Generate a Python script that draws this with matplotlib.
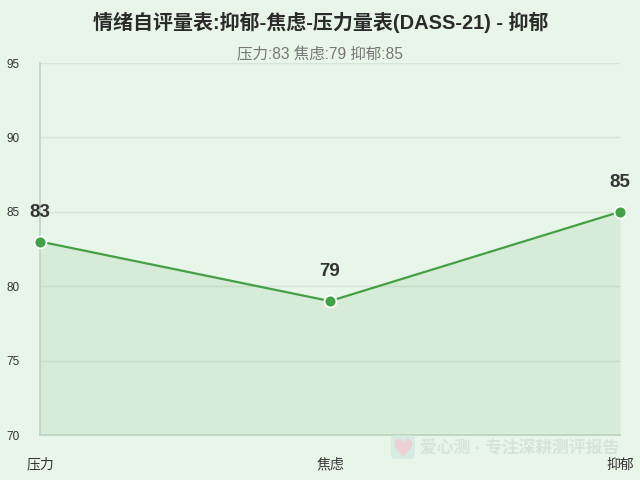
import matplotlib
matplotlib.use('Agg')
import matplotlib.pyplot as plt
from matplotlib.patches import FancyBboxPatch

plt.rcParams['font.family'] = ['Liberation Sans', 'Noto Sans CJK SC', 'DejaVu Sans']

categories = ['压力', '焦虑', '抑郁']
values = [83, 79, 85]
y_ticks = [70, 75, 80, 85, 90, 95]

title = '情绪自评量表:抑郁-焦虑-压力量表(DASS-21) - 抑郁'
subtitle = '压力:83 焦虑:79 抑郁:85'
watermark = '爱心测 · 专注深耕测评报告'

bg = '#e8f5e9'
green = '#43a047'

fig = plt.figure(figsize=(6.4, 4.8), dpi=100, facecolor=bg)
ax = fig.add_axes([40 / 640, 1 - 435 / 480, 580 / 640, 372 / 480], facecolor='none')

x = list(range(len(categories)))
ax.fill_between(x, values, 70, color=green, alpha=0.1, linewidth=0)
ax.plot(x, values, color=green, linewidth=1.6, marker='o', markersize=8.6,
        markerfacecolor=green, markeredgecolor='white', markeredgewidth=1.3,
        clip_on=False, zorder=5)

for i, v in zip(x, values):
    ax.annotate(str(v), (i, v), xytext=(0, 15), textcoords='offset points',
                ha='center', va='bottom', fontsize=13.5, fontweight='bold', color='#333333')

ax.set_xlim(0, 2)
ax.set_ylim(70, 95)
ax.set_yticks(y_ticks)
ax.set_xticks(x)
ax.set_xticklabels(categories)
ax.tick_params(axis='y', length=0, pad=15, labelsize=8.5, labelcolor='#333333')
ax.tick_params(axis='x', length=0, pad=16.5, labelsize=10, labelcolor='#333333')
ax.grid(axis='y', color='#c8d8ca', linewidth=1, alpha=0.55)
ax.set_axisbelow(True)
for name in ['top', 'right']:
    ax.spines[name].set_visible(False)
for name in ['left', 'bottom']:
    ax.spines[name].set_color('#bcd3bf')
    ax.spines[name].set_linewidth(1.2)

fig.text(0.501, 1 - 22 / 480, title, ha='center', va='center', fontsize=14.4,
         fontweight='bold', color='#2b2b2b')
fig.text(0.5, 1 - 55 / 480, subtitle, ha='center', va='center', fontsize=11.2, color='#777777')

# watermark in the lower right corner
icon = FancyBboxPatch((391 / 640, 1 - 459 / 480), 24 / 640, 24 / 480,
                      boxstyle='round,pad=0,rounding_size=0.008',
                      transform=fig.transFigure, facecolor='#cfe8e2', edgecolor='none',
                      alpha=0.7, zorder=6)
fig.add_artist(icon)
fig.text(403 / 640, 1 - 450 / 480, '♥', ha='center', va='center', fontsize=18,
         color='#ecd0d6', family=['DejaVu Sans'], zorder=7)
fig.text(420 / 640, 1 - 448 / 480, watermark, ha='left', va='center', fontsize=12.1,
         fontweight='bold', color='#cfe3d3', alpha=0.85, zorder=7)

fig.savefig('out.png', dpi=100, facecolor=bg)
